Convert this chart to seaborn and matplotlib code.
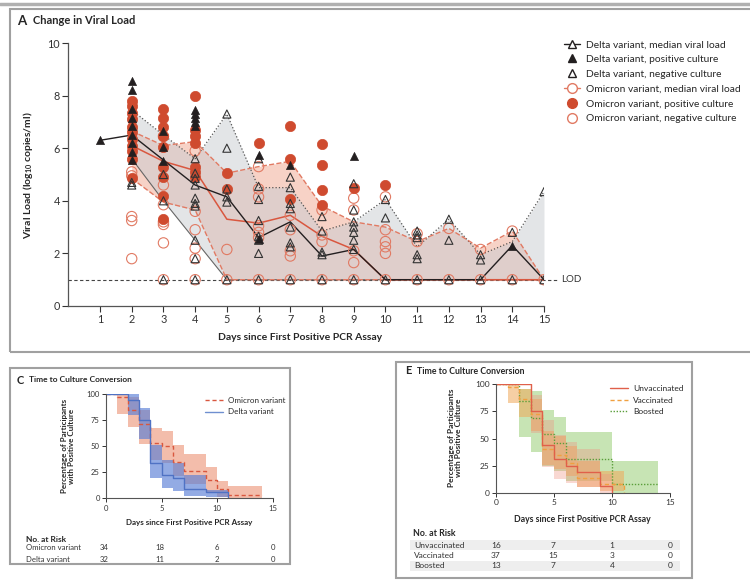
import matplotlib
matplotlib.use('Agg')
import matplotlib.pyplot as plt
import seaborn as sns
from matplotlib.lines import Line2D
from matplotlib.patches import Rectangle

# ---------------- Panel A: viral load ----------------
days_all = [1, 2, 3, 4, 5, 6, 7, 8, 9, 10, 11, 12, 13, 14, 15]
days_2on = [2, 3, 4, 5, 6, 7, 8, 9, 10, 11, 12, 13, 14, 15]

delta_median = [6.3, 6.5, 5.55, 4.6, 4.15, 2.6, 3.2, 1.9, 2.15, 1, 1, 1, 1, 2.3, 1]
delta_q3 = [7.45, 6.5, 5.6, 7.3, 4.5, 4.5, 2.85, 3.2, 4.05, 2.25, 3.3, 1.95, 2.45, 4.35]
delta_q1 = [5.6, 4.0, 2.5, 1, 1, 1, 1, 1, 1, 1, 1, 1, 1, 1]

omicron_median = [6.1, 5.5, 5.15, 3.3, 3.15, 3.45, 2.65, 2.15, 1, 1, 1, 1, 1, 1]
omicron_q3 = [6.65, 6.1, 6.25, 5.05, 5.3, 5.5, 3.8, 3.2, 3.0, 2.45, 2.95, 2.2, 2.85, 1.0]
omicron_q1 = [4.85, 3.95, 3.65, 1, 1, 1, 1, 1, 1, 1, 1, 1, 1, 1]

delta_pos_day = [1, 2, 2, 2, 2, 2, 2, 2, 2, 2, 3, 3, 3, 4, 4, 4, 4, 4, 6, 6, 7, 9, 14]
delta_pos_load = [6.3, 8.55, 8.2, 7.5, 7.15, 6.85, 6.5, 6.2, 5.85, 5.55, 6.65, 6.05, 5.5,
                  7.45, 7.3, 7.15, 7.0, 6.85, 5.75, 2.55, 5.35, 5.7, 2.3]

delta_neg_day = ([2] * 2 + [3] * 3 + [4] * 10 + [5] * 6 + [6] * 8 + [7] * 8 + [8] * 5
                 + [9] * 8 + [10] * 3 + [11] * 6 + [12] * 3 + [13] * 3 + [14] * 2 + [15] * 2)
delta_neg_load = [4.7, 4.6,
                  5.0, 4.0, 1.0,
                  5.6, 5.05, 4.85, 4.6, 4.1, 3.9, 3.8, 2.5, 1.8, 1.0,
                  7.3, 6.0, 4.45, 4.15, 3.95, 1.0,
                  5.6, 4.55, 4.05, 3.25, 2.65, 2.5, 2.0, 1.0,
                  4.9, 4.5, 3.9, 3.7, 3.0, 2.4, 2.25, 1.0,
                  3.4, 2.85, 2.05, 1.95, 1.0,
                  4.65, 3.65, 3.2, 3.0, 2.8, 2.5, 2.15, 1.0,
                  4.05, 3.35, 1.0,
                  2.85, 2.7, 2.6, 1.95, 1.8, 1.0,
                  3.3, 2.5, 1.0,
                  1.95, 1.75, 1.0,
                  2.8, 1.0,
                  4.35, 1.0]

omi_pos_day = ([2] * 11 + [3] * 9 + [4] * 7 + [5] * 2 + [6] * 1 + [7] * 3 + [8] * 4
               + [9] * 1 + [10] * 1)
omi_pos_load = [7.8, 7.6, 7.35, 7.1, 6.8, 6.6, 6.35, 6.1, 5.9, 5.6, 4.85,
                7.5, 7.15, 6.8, 6.45, 6.05, 5.3, 4.9, 4.2, 3.3,
                8.0, 6.7, 6.45, 6.2, 5.3, 5.1, 4.9,
                5.05, 4.45,
                6.2,
                6.85, 5.6, 4.05,
                6.15, 5.35, 4.4, 3.85,
                4.5,
                4.6]

omi_neg_day = ([2] * 5 + [3] * 7 + [4] * 6 + [5] * 2 + [6] * 7 + [7] * 5 + [8] * 4
               + [9] * 5 + [10] * 6 + [11] * 3 + [12] * 2 + [13] * 2 + [14] * 2 + [15] * 1)
omi_neg_load = [5.1, 4.95, 3.4, 3.25, 1.8,
                6.45, 4.6, 3.85, 3.2, 3.1, 2.4, 1.0,
                5.9, 3.6, 2.9, 2.2, 1.8, 1.0,
                2.15, 1.0,
                5.3, 4.45, 4.15, 3.05, 2.8, 2.6, 1.0,
                3.45, 2.9, 2.1, 1.9, 1.0,
                3.65, 2.7, 2.45, 1.0,
                4.1, 3.65, 2.1, 1.65, 1.0,
                4.15, 2.9, 2.45, 2.25, 2.0, 1.0,
                2.75, 2.45, 1.0,
                2.95, 1.0,
                2.15, 1.0,
                2.85, 1.0,
                1.0]

# ---------------- Panel C: Kaplan-Meier by variant ----------------
omi_t = [0, 1, 2, 3, 4, 5, 6, 7, 9, 10, 11, 14]
omi_s = [100, 97, 85, 71, 53, 50, 35, 26.5, 18, 9, 3, 3]
omi_lo = [100, 81, 68, 52, 37, 34, 21, 14, 5, 1, 0, 0]
omi_hi = [100, 100, 97, 85, 67, 65, 51, 42, 30, 17, 12, 12]

del_t = [0, 2, 3, 4, 5, 6, 7, 9, 11]
del_s = [100, 94, 75, 34, 22, 19, 9, 6, 0]
del_lo = [100, 80, 57, 19, 10, 7, 2, 1, 0]
del_hi = [100, 100, 87, 51, 37, 34, 22, 8, 0]

risk_c_rows = ['Omicron variant', 'Delta variant']
risk_c = [[34, 18, 6, 0], [32, 11, 2, 0]]

# ---------------- Panel E: Kaplan-Meier by vaccination ----------------
unv_t = [0, 3, 4, 5, 6, 7, 9, 10]
unv_s = [100, 75, 43.75, 31.25, 25, 18.75, 6.25, 0]
unv_lo = [100, 55, 24, 13, 9, 5, 0, 0]
unv_hi = [100, 90, 67, 53, 47, 40, 17, 0]

vac_t = [0, 1, 2, 3, 4, 5, 6, 7, 9, 11]
vac_s = [100, 97.3, 86.5, 73, 40.5, 35.1, 27, 13.5, 8.1, 0]
vac_lo = [100, 83, 70, 57, 26, 22, 15, 5, 2, 0]
vac_hi = [100, 100, 96, 86, 57, 52, 43, 29, 20, 0]

boo_t = [0, 2, 3, 4, 5, 6, 10, 14]
boo_s = [100, 84.6, 69.2, 53.8, 46.2, 30.8, 7.7, 7.7]
boo_lo = [100, 51, 38, 25, 20, 11, 0, 0]
boo_hi = [100, 96, 94, 76, 70, 56, 29, 29]

risk_e_rows = ['Unvaccinated', 'Vaccinated', 'Boosted']
risk_e = [[16, 7, 1, 0], [37, 15, 3, 0], [13, 7, 4, 0]]

# ---------------- style ----------------
sns.set_theme(style='ticks')
plt.rcParams['font.family'] = ['Lato', 'DejaVu Sans']
plt.rcParams['mathtext.fontset'] = 'custom'
plt.rcParams['mathtext.rm'] = 'Lato:bold'
plt.rcParams['mathtext.default'] = 'rm'

RED = '#cf4b2f'
RED_LIGHT = '#e17a63'
DARK = '#231f20'
FRAME = '#a0a0a0'

W, H = 750, 581
fig = plt.figure(figsize=(7.5, 5.81), dpi=100)


def fx(x):
    return x / W


def fy(y):
    return 1 - y / H


# panel frames
fig.add_artist(Line2D([0, 1], [fy(4), fy(4)], color='#b0b0b0', lw=2.5))
fig.add_artist(Rectangle((fx(10), fy(352)), 1, (352 - 9) / H, fill=False,
                         ec=FRAME, lw=1.5, transform=fig.transFigure))
fig.add_artist(Rectangle((fx(10), fy(564)), (290 - 10) / W, (564 - 368) / H, fill=False,
                         ec=FRAME, lw=1.5, transform=fig.transFigure))
fig.add_artist(Rectangle((fx(396), fy(578)), (692 - 396) / W, (578 - 362) / H, fill=False,
                         ec=FRAME, lw=1.5, transform=fig.transFigure))

# ================= Panel A =================
ax = fig.add_axes([fx(68.3), fy(306), (544 - 68.3) / W, (306 - 43) / H])

ax.fill_between(days_2on, omicron_q1, omicron_q3, color='#f1a78f', alpha=0.5, lw=0, zorder=1)
ax.fill_between(days_2on, delta_q1, delta_q3, color='#c9ccd0', alpha=0.5, lw=0, zorder=1)

ax.plot([0, 15.4], [1, 1], color='#444444', lw=0.8, dashes=(3, 2.2), clip_on=False, zorder=1)
ax.text(15.55, 1, 'LOD', va='center', ha='left', fontsize=7, color='#333333')

sns.lineplot(x=days_2on, y=delta_q3, color='#555555', lw=0.9, linestyle=':', ax=ax, zorder=2)
sns.lineplot(x=days_2on, y=delta_q1, color='#666666', lw=0.8, ax=ax, zorder=2)
sns.lineplot(x=days_2on, y=omicron_q3, color=RED_LIGHT, lw=1.0, linestyle='--', ax=ax, zorder=2)
sns.lineplot(x=days_2on, y=omicron_q1, color=RED_LIGHT, lw=1.0, linestyle='--', ax=ax, zorder=2)
sns.lineplot(x=days_2on, y=omicron_median, color='#d9573f', lw=1.1, ax=ax, zorder=3)
sns.lineplot(x=days_all, y=delta_median, color=DARK, lw=1.0, ax=ax, zorder=3)

sns.scatterplot(x=omi_neg_day, y=omi_neg_load, marker='o', s=55, facecolor='none',
                edgecolor=RED_LIGHT, linewidth=0.8, ax=ax, zorder=4)
sns.scatterplot(x=omi_pos_day, y=omi_pos_load, marker='o', s=55, color=RED,
                edgecolor=RED, linewidth=0.5, ax=ax, zorder=4)
sns.scatterplot(x=delta_neg_day, y=delta_neg_load, marker='^', s=34, facecolor='none',
                edgecolor='#333333', linewidth=0.8, ax=ax, zorder=5)
sns.scatterplot(x=delta_pos_day, y=delta_pos_load, marker='^', s=34, color=DARK,
                edgecolor=DARK, linewidth=0.5, ax=ax, zorder=5)

ax.set_xlim(0, 15)
ax.set_ylim(0, 10)
ax.set_xticks(range(1, 16))
ax.set_yticks([0, 2, 4, 6, 8, 10])
ax.tick_params(labelsize=7.8, length=4, width=0.8, colors='#333333', pad=2)
sns.despine(ax=ax)
for s in ['left', 'bottom']:
    ax.spines[s].set_color('#555555')
    ax.spines[s].set_linewidth(0.9)
ax.set_xlabel('')
ax.set_ylabel('')
fig.text(fx(300), fy(337), 'Days since First Positive PCR Assay', ha='center', va='center',
         fontsize=7.5, fontweight='bold')
fig.text(fx(28), fy(175), r'Viral Load (log$_{10}$ copies/ml)', rotation=90, ha='center',
         va='center', fontsize=7.5, fontweight='bold')
fig.text(fx(17), fy(21), 'A', fontsize=9.5, fontweight='bold', va='center')
fig.text(fx(33), fy(21), 'Change in Viral Load', fontsize=8, fontweight='bold', va='center')

handles = [
    Line2D([], [], color=DARK, lw=1, marker='^', mfc='white', mec=DARK, ms=5.5),
    Line2D([], [], color=DARK, lw=0, marker='^', ms=5.5),
    Line2D([], [], color=DARK, lw=0, marker='^', mfc='white', mec=DARK, ms=5.5),
    Line2D([], [], color=RED_LIGHT, lw=1, marker='o', mfc='white', mec=RED_LIGHT, ms=7),
    Line2D([], [], color=RED, lw=0, marker='o', ms=7),
    Line2D([], [], color=RED_LIGHT, lw=0, marker='o', mfc='white', mec=RED_LIGHT, ms=7),
]
labels = ['Delta variant, median viral load', 'Delta variant, positive culture',
          'Delta variant, negative culture', 'Omicron variant, median viral load',
          'Omicron variant, positive culture', 'Omicron variant, negative culture']
fig.legend(handles, labels, loc='upper left', bbox_to_anchor=(fx(564), fy(40)), frameon=False,
           fontsize=7.4, handlelength=1.6, handletextpad=0.5, labelspacing=0.55,
           borderpad=0, borderaxespad=0)


# ================= KM helpers =================
def km_axes(rect):
    a = fig.add_axes(rect)
    a.set_xlim(0, 15)
    a.set_ylim(0, 100)
    a.set_xticks([0, 5, 10, 15])
    a.set_yticks([0, 25, 50, 75, 100])
    a.tick_params(labelsize=5.5, length=3, width=0.7, colors='#333333', pad=1.5)
    sns.despine(ax=a)
    for s in ['left', 'bottom']:
        a.spines[s].set_color('#555555')
        a.spines[s].set_linewidth(0.8)
    return a


def km(a, t, s, lo, hi, color, fill, alpha, ls, lw=1.0):
    a.fill_between(t, lo, hi, step='post', color=fill, alpha=alpha, lw=0)
    sns.lineplot(x=t, y=s, drawstyle='steps-post', color=color, lw=lw, linestyle=ls,
                 errorbar=None, ax=a)
    a.set_xlabel('')
    a.set_ylabel('')


# ================= Panel C =================
axc = km_axes([fx(106), fy(498.3), (272.7 - 106) / W, (498.3 - 394) / H])
km(axc, omi_t, omi_s, omi_lo, omi_hi, '#d9573f', '#ee9a7e', 0.65, (0, (3, 2)))
km(axc, del_t, del_s, del_lo, del_hi, '#4f72c4', '#5a7ed6', 0.65, '-')
axc.legend([Line2D([], [], color='#d9573f', lw=1, linestyle=(0, (3, 2))),
            Line2D([], [], color='#6f8fd0', lw=1)],
           ['Omicron variant', 'Delta variant'], loc='upper left',
           bbox_to_anchor=(fx(205), fy(397)), bbox_transform=fig.transFigure,
           frameon=False, fontsize=5.8, handlelength=2.2, handletextpad=0.6,
           labelspacing=0.55, borderpad=0, borderaxespad=0)

fig.text(fx(17), fy(380), 'C', fontsize=8, fontweight='bold', va='center')
fig.text(fx(29), fy(380), 'Time to Culture Conversion', fontsize=6, fontweight='bold', va='center')
fig.text(fx(68), fy(446), 'Percentage of Participants\nwith Positive Culture', rotation=90,
         ha='center', va='center', fontsize=5.8, fontweight='bold', linespacing=1.1)
fig.text(fx(189), fy(523), 'Days since First Positive PCR Assay', ha='center', va='center',
         fontsize=5.8, fontweight='bold')
fig.text(fx(26), fy(539), 'No. at Risk', fontsize=6, fontweight='bold', va='center')
for i, (name, vals) in enumerate(zip(risk_c_rows, risk_c)):
    yy = fy(548 + 11 * i)
    fig.text(fx(26), yy, name, fontsize=5.6, va='center', color='#333333')
    for xv, v in zip([104, 160, 217, 273], vals):
        fig.text(fx(xv), yy, str(v), fontsize=5.6, va='center', ha='center', color='#333333')

# ================= Panel E =================
axe = km_axes([fx(496), fy(492.7), (670 - 496) / W, (492.7 - 384.3) / H])
km(axe, boo_t, boo_s, boo_lo, boo_hi, '#5a9e3a', '#a3d283', 0.6, (0, (1, 1.2)))
km(axe, vac_t, vac_s, vac_lo, vac_hi, '#f0a040', '#f0a85a', 0.55, (0, (3, 2)))
km(axe, unv_t, unv_s, unv_lo, unv_hi, '#e0604a', '#f09080', 0.35, '-')
axe.legend([Line2D([], [], color='#e0604a', lw=1),
            Line2D([], [], color='#f0a040', lw=1, linestyle=(0, (3, 2))),
            Line2D([], [], color='#5a9e3a', lw=1, linestyle=(0, (1, 1.2)))],
           ['Unvaccinated', 'Vaccinated', 'Boosted'], loc='upper left',
           bbox_to_anchor=(fx(610), fy(385)), bbox_transform=fig.transFigure,
           frameon=False, fontsize=6, handlelength=2.2, handletextpad=0.6,
           labelspacing=0.55, borderpad=0, borderaxespad=0)
axe.tick_params(labelsize=6)

fig.text(fx(405), fy(371), 'E', fontsize=8, fontweight='bold', va='center')
fig.text(fx(417), fy(371), 'Time to Culture Conversion', fontsize=6.3, fontweight='bold', va='center')
fig.text(fx(455), fy(438), 'Percentage of Participants\nwith Positive Culture', rotation=90,
         ha='center', va='center', fontsize=6, fontweight='bold', linespacing=1.1)
fig.text(fx(582), fy(519), 'Days since First Positive PCR Assay', ha='center', va='center',
         fontsize=6.2, fontweight='bold')
fig.text(fx(413), fy(534), 'No. at Risk', fontsize=6.3, fontweight='bold', va='center')
for i, (name, vals) in enumerate(zip(risk_e_rows, risk_e)):
    ycen = 545 + 10.5 * i
    if i != 1:
        fig.add_artist(Rectangle((fx(410), fy(ycen + 5.2)), (680 - 410) / W, 10.4 / H,
                                 color='#eeeeee', lw=0, transform=fig.transFigure, zorder=0))
    fig.text(fx(414), fy(ycen), name, fontsize=6, va='center', color='#333333')
    for xv, v in zip([496, 553, 612, 670], vals):
        fig.text(fx(xv), fy(ycen), str(v), fontsize=6, va='center', ha='center', color='#333333')

fig.savefig('out.png', dpi=100)
